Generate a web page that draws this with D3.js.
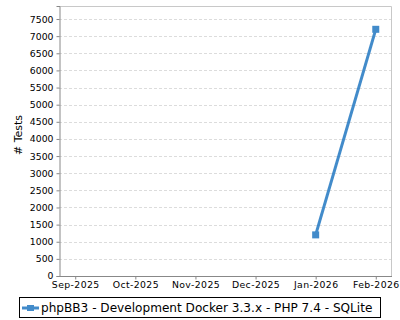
<!DOCTYPE html>
<html>
<head>
<meta charset="utf-8">
<script src="https://cdn.jsdelivr.net/npm/d3@7"></script>
<style>
  body { margin: 0; background: #fff; }
  svg { font-family: "DejaVu Sans", sans-serif; }
</style>
</head>
<body>
<div id="chart"></div>
<script>
// data
const months = ["Sep-2025", "Oct-2025", "Nov-2025", "Dec-2025", "Jan-2026", "Feb-2026"];
const pointMonths = ["Jan-2026", "Feb-2026"];
const testCounts = [1200, 7200];
const yTicks = [0, 500, 1000, 1500, 2000, 2500, 3000, 3500, 4000, 4500, 5000, 5500, 6000, 6500, 7000, 7500];
const seriesName = "phpBB3 - Development Docker 3.3.x - PHP 7.4 - SQLite";

const width = 400, height = 320;
const margin = { top: 6, right: 8, bottom: 44, left: 59 };
const lineColor = "#428bca";

const svg = d3.select("#chart").append("svg")
  .attr("width", width)
  .attr("height", height);

const x = d3.scalePoint()
  .domain(months)
  .range([margin.left, width - margin.right])
  .padding(0.27);

const y = d3.scaleLinear()
  .domain([0, 7880])
  .range([height - margin.bottom, margin.top]);

// grid
svg.append("g")
  .selectAll("line")
  .data(yTicks.filter(d => d > 0))
  .join("line")
  .attr("x1", margin.left)
  .attr("x2", width - margin.right)
  .attr("y1", d => Math.round(y(d)) + 0.5)
  .attr("y2", d => Math.round(y(d)) + 0.5)
  .attr("stroke", "#dcdcdc")
  .attr("stroke-dasharray", "3,2");

// frame: light top/right
svg.append("path")
  .attr("d", `M${margin.left},${margin.top + 0.5}H${width - margin.right - 0.5}V${height - margin.bottom}`)
  .attr("fill", "none")
  .attr("stroke", "#c8c8c8");

// axes
const yAxis = d3.axisLeft(y).tickValues(yTicks).tickFormat(d3.format("d")).tickSize(3).tickPadding(3);
const gy = svg.append("g")
  .attr("transform", `translate(${margin.left + 0.5},0)`)
  .call(yAxis);

const xAxis = d3.axisBottom(x).tickSize(3).tickPadding(2);
const gx = svg.append("g")
  .attr("transform", `translate(0,${height - margin.bottom + 0.5})`)
  .call(xAxis);

[gx, gy].forEach(g => {
  g.select(".domain").attr("stroke", "#888");
  g.selectAll(".tick line").attr("stroke", "#888");
  g.selectAll("text").attr("fill", "#000").style("font-size", "9.3px").style("font-family", "DejaVu Sans");
});
gx.selectAll("text").style("letter-spacing", "0.4px");
gx.select(".domain").attr("d", `M${margin.left},0H${width - margin.right}`);

// y title
svg.append("text")
  .attr("transform", `translate(22,135) rotate(-90)`)
  .attr("text-anchor", "middle")
  .style("font-size", "11px")
  .text("# Tests");

// series
const pts = pointMonths.map((m, i) => ({ m, v: testCounts[i] }));
svg.append("path")
  .datum(pts)
  .attr("fill", "none")
  .attr("stroke", lineColor)
  .attr("stroke-width", 3)
  .attr("d", d3.line().x(d => x(d.m)).y(d => y(d.v)));

svg.append("g")
  .selectAll("rect")
  .data(pts)
  .join("rect")
  .attr("x", d => x(d.m) - 3.5)
  .attr("y", d => y(d.v) - 3.5)
  .attr("width", 7)
  .attr("height", 7)
  .attr("fill", lineColor);

// legend
const lg = svg.append("g");
lg.append("rect")
  .attr("x", 19.5).attr("y", 297.5)
  .attr("width", 361).attr("height", 20)
  .attr("fill", "#fff").attr("stroke", "#000");
lg.append("line")
  .attr("x1", 22).attr("x2", 39).attr("y1", 308).attr("y2", 308)
  .attr("stroke", lineColor).attr("stroke-width", 3);
lg.append("rect")
  .attr("x", 27).attr("y", 305).attr("width", 7).attr("height", 6)
  .attr("fill", lineColor);
lg.append("text")
  .attr("x", 41).attr("y", 312)
  .style("font-size", "12.1px")
  .text(seriesName);
</script>
</body>
</html>
